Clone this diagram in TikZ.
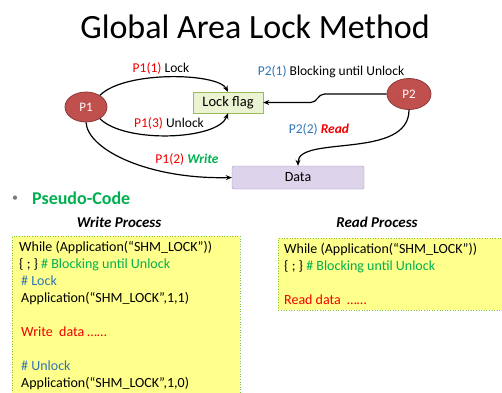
\documentclass[tikz,border=0pt]{standalone}
\usepackage{fontspec}
\setmainfont{Carlito}
\usetikzlibrary{arrows.meta,positioning,calc,shapes.geometric}
\definecolor{Ink}{HTML}{000000}
\definecolor{ProcFill}{HTML}{C0504D}
\definecolor{ProcEdge}{HTML}{8C3A38}
\definecolor{FlagFill}{HTML}{EAF4D3}
\definecolor{FlagEdge}{HTML}{9BBB59}
\definecolor{DataFill}{HTML}{DDD3EB}
\definecolor{DataEdge}{HTML}{A593C2}
\definecolor{CodeFill}{HTML}{FFFF8C}
\definecolor{CodeEdge}{HTML}{7DC24B}
\definecolor{LblRed}{HTML}{F00000}
\definecolor{LblBlue}{HTML}{2E75B6}
\definecolor{LblGreen}{HTML}{00B050}
\definecolor{BulletGray}{HTML}{6F7F6F}
\tikzset{
  procnode/.style={ellipse,draw=ProcEdge,fill=ProcFill,line width=0.8pt,minimum width=42pt,minimum height=30pt,inner sep=0pt,font=\fontsize{13}{15}\selectfont,text=white},
  flagbox/.style={draw=FlagEdge,fill=FlagFill,minimum width=70pt,minimum height=21pt,inner sep=0pt,font=\fontsize{14.5}{16}\selectfont,text=Ink},
  databox/.style={draw=DataEdge,fill=DataFill,rounded corners=1.5pt,minimum width=132pt,minimum height=23pt,inner sep=0pt,font=\fontsize{14}{16}\selectfont,text=Ink},
  codebox/.style={draw=CodeEdge,fill=CodeFill,dotted,line width=0.6pt,anchor=north west,inner sep=0pt},
  codetext/.style={anchor=north west,align=left,inner sep=0pt,font=\fontsize{14}{17}\selectfont,text=Ink},
  edgelabel/.style={inner sep=1pt,font=\fontsize{13.5}{16}\selectfont,text=Ink},
  headtext/.style={inner sep=0pt,font=\fontsize{15}{17}\selectfont\bfseries\itshape,text=Ink},
  arrowline/.style={-{Stealth[length=6pt,width=5pt]},draw=Ink,line width=1.2pt}
}

\begin{document}
\begin{tikzpicture}[x=1pt,y=-1pt]
  \useasboundingbox (0,0) rectangle (502,392);
  \clip (0,0) rectangle (502,392);
  \node[font=\fontsize{34}{40}\selectfont] (title) at (255,27) {Global Area Lock Method};

  \node[procnode] (p1) at (86,107) {P1};
  \node[procnode,minimum width=44pt,minimum height=31pt] (p2) at (409,94) {P2};
  \node[flagbox] (lockflag) at (228,102.5) {Lock flag};
  \node[databox] (data) at (298,177.5) {Data};

  \draw[arrowline] (p1.40) .. controls +(25,-25) and +(-10,-19) .. (lockflag.north);
  \draw[arrowline] (p1.-40) .. controls +(25,25) and +(-10,27) .. (lockflag.south);
  \draw[arrowline] (p1.south) .. controls +(2,28) and +(-82,2) .. (data.west);
  \draw[arrowline] (p2.west) -- ++(-62,0) .. controls +(-7,0) and +(7,0) .. ++(-14,8.5) -- (lockflag.east);
  \draw[arrowline] (p2.south) .. controls +(0,50) and +(0,-31) .. (data.north);

  \node[edgelabel] (lbllock) at (161,68) {\textcolor{LblRed}{P1(1)} Lock};
  \node[edgelabel] (lblunlock) at (169,123) {\textcolor{LblRed}{P1(3)} Unlock};
  \node[edgelabel] (lblwrite) at (187,159) {\textcolor{LblRed}{P1(2)} \textcolor{LblGreen}{\textbf{\textit{Write}}}};
  \node[edgelabel] (lblblock) at (331,72) {\textcolor{LblBlue}{P2(1)} Blocking until Unlock};
  \node[edgelabel] (lblread) at (319,129) {\textcolor{LblBlue}{P2(2)} \textcolor{LblRed}{\textbf{\textit{Read}}}};

  \node[text=BulletGray,font=\fontsize{12}{14}\selectfont] (bullet) at (15,199) {•};
  \node[anchor=west,inner sep=0pt,text=LblGreen,font=\fontsize{18}{21}\selectfont\bfseries] (pseudo) at (32,198) {Pseudo-Code};
  \node[headtext] (writehead) at (119,222) {Write Process};
  \node[headtext] (readhead) at (377,222) {Read Process};

  \node[codebox,minimum width=228pt,minimum height=170pt] (writebox) at (12,236) {};
  \node[codebox,minimum width=226pt,minimum height=72pt] (readbox) at (278,238) {};

  \node[codetext] (writecode) at ($(writebox.north west)+(7,5)$) {%
    While (Application(“SHM\_LOCK”))\\
    \{ ; \} \textcolor{LblGreen}{\# Blocking until Unlock}\\
    \hspace{2pt}\textcolor{LblBlue}{\# Lock}\\
    \hspace{2pt}Application(“SHM\_LOCK”,1,1)\\[17pt]
    \hspace{2pt}\textcolor{LblRed}{Write\ \ data ……}\\[17pt]
    \hspace{2pt}\textcolor{LblBlue}{\# Unlock}\\
    \hspace{2pt}Application(“SHM\_LOCK”,1,0)};
  \node[codetext] (readcode) at ($(readbox.north west)+(6,5)$) {%
    While (Application(“SHM\_LOCK”))\\
    \{ ; \} \textcolor{LblGreen}{\# Blocking until Unlock}\\[17pt]
    \textcolor{LblRed}{Read data\ \ ……}};
\end{tikzpicture}
\end{document}
